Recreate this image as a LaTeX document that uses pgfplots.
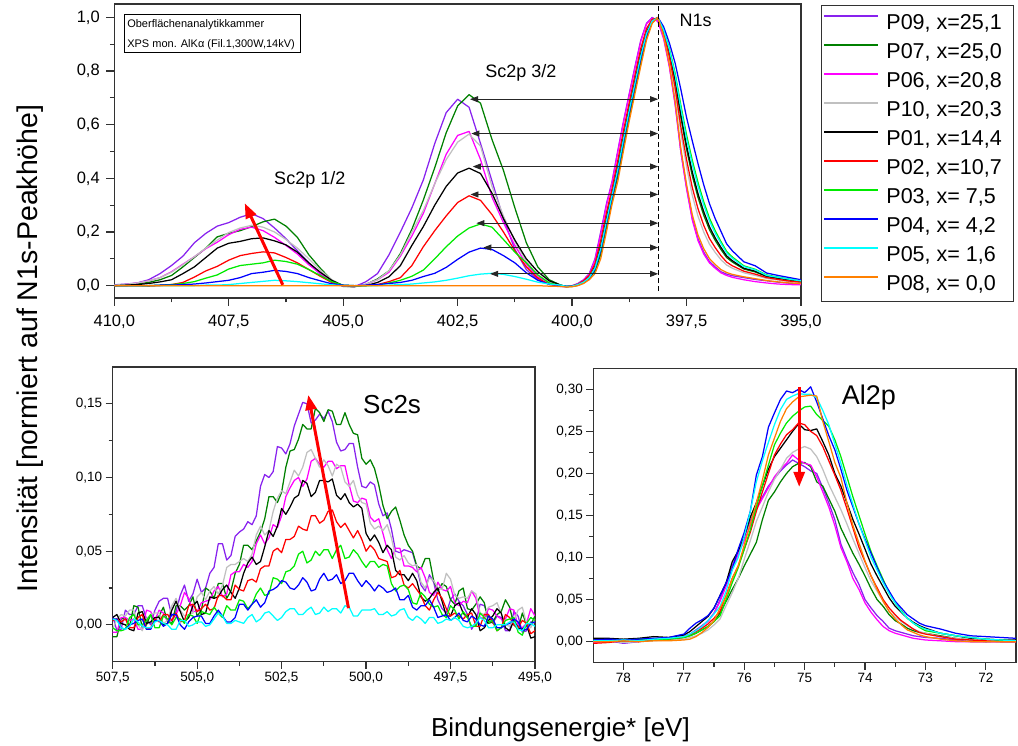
\documentclass[border=0pt]{standalone}
\usepackage{fontspec}
\setmainfont{Liberation Sans}
\usepackage{pgfplots}
\pgfplotsset{compat=1.18}
\usepackage{pgfplotstable}
\usetikzlibrary{arrows.meta}

\definecolor{cP09}{RGB}{136,34,238}
\definecolor{cP07}{RGB}{0,128,0}
\definecolor{cP06}{RGB}{255,0,255}
\definecolor{cP10}{RGB}{192,192,192}
\definecolor{cP01}{RGB}{0,0,0}
\definecolor{cP02}{RGB}{255,0,0}
\definecolor{cP03}{RGB}{0,235,0}
\definecolor{cP04}{RGB}{0,0,255}
\definecolor{cP05}{RGB}{0,255,255}
\definecolor{cP08}{RGB}{255,128,0}
\definecolor{axcol}{RGB}{50,50,50}

\pgfplotstableread{
x p09 p07 p06 p10 p01 p02 p03 p04 p05 p08
410.0 0.003 0.000 0.000 0.002 0.000 -0.002 0.000 0.000 0.000 0.000
409.75 0.006 0.003 0.004 0.005 0.002 -0.001 0.000 0.000 0.000 0.000
409.5 0.010 0.006 0.010 0.010 0.004 0.000 0.000 0.000 0.000 0.000
409.25 0.022 0.012 0.018 0.018 0.008 -0.002 0.000 0.000 0.000 0.000
409.0 0.045 0.022 0.030 0.030 0.014 0.000 0.002 0.002 0.000 0.000
408.75 0.075 0.038 0.052 0.050 0.022 0.004 0.004 0.002 0.000 0.000
408.5 0.110 0.070 0.080 0.078 0.045 0.012 0.008 0.004 0.000 0.000
408.25 0.160 0.105 0.108 0.108 0.070 0.032 0.015 0.006 0.000 0.000
408.0 0.195 0.140 0.138 0.140 0.105 0.055 0.028 0.010 0.002 0.000
407.75 0.222 0.182 0.162 0.170 0.140 0.072 0.040 0.015 0.002 0.000
407.5 0.235 0.195 0.190 0.198 0.158 0.095 0.062 0.020 0.004 0.000
407.25 0.255 0.205 0.210 0.215 0.165 0.112 0.075 0.030 0.008 0.000
407.0 0.268 0.220 0.218 0.225 0.175 0.120 0.080 0.045 0.012 0.000
406.75 0.250 0.238 0.205 0.218 0.178 0.126 0.085 0.050 0.016 0.000
406.5 0.215 0.248 0.180 0.200 0.167 0.122 0.095 0.057 0.020 0.000
406.25 0.175 0.222 0.150 0.172 0.152 0.105 0.090 0.053 0.018 0.000
406.0 0.130 0.180 0.118 0.140 0.125 0.085 0.080 0.045 0.015 0.000
405.75 0.085 0.115 0.078 0.100 0.085 0.060 0.060 0.030 0.011 0.000
405.5 0.042 0.065 0.045 0.058 0.050 0.035 0.038 0.018 0.007 0.000
405.25 0.012 0.020 0.015 0.022 0.020 0.012 0.015 0.007 0.003 0.000
405.0 -0.002 -0.003 -0.002 0.000 0.000 0.000 0.002 0.002 0.000 0.000
404.75 -0.004 -0.004 -0.003 -0.003 -0.002 -0.002 0.000 0.000 0.000 0.000
404.5 0.015 0.005 0.005 0.006 0.000 0.000 0.000 0.002 0.000 0.000
404.25 0.045 0.025 0.022 0.022 0.012 0.004 0.002 0.004 0.000 0.000
404.0 0.115 0.055 0.050 0.055 0.033 0.015 0.010 0.008 0.002 0.000
403.75 0.200 0.120 0.110 0.115 0.075 0.030 0.020 0.012 0.004 0.000
403.5 0.290 0.210 0.185 0.200 0.150 0.075 0.035 0.020 0.006 0.000
403.25 0.394 0.319 0.269 0.280 0.220 0.145 0.058 0.034 0.010 0.000
403.0 0.530 0.440 0.380 0.380 0.300 0.205 0.100 0.046 0.014 0.000
402.75 0.645 0.570 0.490 0.470 0.370 0.260 0.145 0.068 0.020 0.000
402.5 0.695 0.670 0.560 0.535 0.420 0.310 0.185 0.098 0.028 0.000
402.25 0.665 0.712 0.575 0.565 0.438 0.335 0.215 0.125 0.037 0.000
402.0 0.530 0.680 0.470 0.520 0.418 0.318 0.230 0.140 0.043 0.000
401.75 0.390 0.545 0.330 0.370 0.345 0.265 0.218 0.135 0.046 0.000
401.5 0.250 0.430 0.235 0.260 0.250 0.200 0.172 0.112 0.042 0.000
401.25 0.135 0.290 0.150 0.165 0.170 0.130 0.125 0.085 0.034 0.000
401.0 0.060 0.160 0.080 0.090 0.100 0.070 0.085 0.048 0.024 0.000
400.75 0.022 0.070 0.033 0.040 0.052 0.028 0.040 0.020 0.013 0.000
400.5 0.006 0.022 0.010 0.012 0.018 0.004 0.010 0.005 0.006 -0.002
400.25 -0.003 0.002 -0.002 0.000 0.002 0.000 0.000 0.000 0.002 -0.003
400.125 -0.004 -0.003 -0.004 -0.003 -0.003 -0.004 -0.003 -0.002 -0.003 -0.005
400.0 0.000 -0.003 -0.002 -0.002 -0.002 -0.001 -0.003 -0.002 -0.002 -0.004
399.875 0.008 0.001 0.006 0.005 0.004 0.005 0.003 0.003 0.004 0.000
399.75 0.022 0.010 0.020 0.016 0.015 0.018 0.012 0.012 0.013 0.008
399.625 0.045 0.026 0.042 0.036 0.033 0.038 0.029 0.028 0.030 0.022
399.5 0.100 0.054 0.095 0.078 0.071 0.082 0.063 0.062 0.066 0.045
399.375 0.200 0.116 0.192 0.160 0.148 0.168 0.132 0.130 0.138 0.100
399.25 0.305 0.217 0.298 0.263 0.250 0.271 0.234 0.232 0.240 0.200
399.125 0.390 0.319 0.386 0.356 0.346 0.363 0.332 0.330 0.338 0.305
399.0 0.505 0.408 0.500 0.459 0.445 0.468 0.427 0.425 0.435 0.390
398.875 0.615 0.523 0.610 0.571 0.558 0.580 0.540 0.538 0.548 0.505
398.75 0.717 0.631 0.712 0.676 0.664 0.684 0.648 0.645 0.655 0.615
398.625 0.818 0.733 0.813 0.778 0.765 0.786 0.749 0.746 0.756 0.717
398.5 0.915 0.834 0.910 0.876 0.865 0.884 0.849 0.846 0.856 0.818
398.375 0.978 0.925 0.975 0.953 0.945 0.958 0.935 0.932 0.940 0.915
398.25 1.000 0.982 0.998 0.991 0.989 0.993 0.985 0.984 0.987 0.978
398.125 0.985 0.997 0.985 0.998 0.999 0.998 0.999 1.000 0.999 1.000
398.0 0.925 0.947 0.920 0.937 0.949 0.941 0.955 0.965 0.953 0.930
397.875 0.820 0.867 0.815 0.846 0.871 0.854 0.884 0.905 0.880 0.824
397.75 0.680 0.763 0.675 0.725 0.770 0.740 0.793 0.830 0.785 0.688
397.625 0.500 0.628 0.500 0.570 0.639 0.593 0.674 0.732 0.662 0.512
397.5 0.365 0.509 0.362 0.444 0.522 0.470 0.562 0.627 0.548 0.378
397.375 0.250 0.410 0.245 0.337 0.424 0.366 0.468 0.540 0.453 0.265
397.25 0.175 0.329 0.168 0.259 0.343 0.287 0.385 0.455 0.371 0.189
397.125 0.125 0.263 0.118 0.200 0.276 0.225 0.313 0.376 0.301 0.138
397.0 0.090 0.209 0.085 0.155 0.220 0.176 0.252 0.306 0.241 0.101
396.875 0.070 0.169 0.065 0.124 0.178 0.142 0.205 0.250 0.196 0.079
396.75 0.052 0.135 0.048 0.097 0.143 0.112 0.165 0.203 0.158 0.060
396.625 0.043 0.105 0.038 0.077 0.111 0.088 0.128 0.156 0.122 0.049
396.5 0.037 0.088 0.031 0.065 0.093 0.074 0.107 0.130 0.102 0.042
396.25 0.030 0.062 0.022 0.048 0.065 0.054 0.074 0.089 0.071 0.033
396.0 0.023 0.051 0.015 0.038 0.054 0.043 0.061 0.074 0.059 0.026
395.75 0.018 0.034 0.010 0.027 0.035 0.030 0.040 0.047 0.038 0.019
395.5 0.013 0.027 0.006 0.021 0.028 0.023 0.032 0.038 0.031 0.014
395.25 0.009 0.021 0.004 0.015 0.022 0.017 0.025 0.030 0.024 0.010
395.0 0.007 0.015 0.003 0.012 0.016 0.013 0.018 0.022 0.018 0.008
}\topdata

\pgfplotstableread{
x p09 p07 p06 p10 p01 p02 p03 p04 p05
507.5 0.006 -0.008 -0.005 -0.003 0.005 0.003 -0.002 0.004 0.004
507.375 -0.004 -0.008 -0.005 0.004 0.007 0.004 -0.004 0.004 0.003
507.25 -0.003 0.004 0.005 0.007 0.001 0.002 -0.004 -0.002 -0.002
507.125 0.010 0.005 0.005 0.006 0.000 0.004 -0.003 -0.003 -0.003
507.0 0.007 -0.001 0.003 0.010 -0.003 -0.002 0.005 0.000 -0.001
506.875 0.007 0.013 0.004 0.010 -0.004 -0.002 0.007 0.001 0.004
506.75 0.013 0.012 -0.003 0.000 0.008 0.005 0.000 0.003 0.002
506.625 0.013 -0.002 -0.003 -0.004 0.009 0.007 0.000 0.004 -0.001
506.5 0.004 0.000 0.010 0.004 0.001 -0.003 0.003 -0.003 -0.002
506.375 0.000 0.007 0.009 0.007 0.002 -0.002 0.007 -0.003 -0.002
506.25 0.010 0.004 0.003 0.008 0.005 0.004 -0.002 0.003 0.002
506.125 0.016 0.006 0.010 0.008 0.005 0.002 -0.002 0.003 0.003
506.0 0.018 0.012 0.008 0.001 0.000 0.007 0.006 -0.001 0.001
505.875 0.018 0.002 0.002 0.003 0.001 0.007 0.004 0.001 0.000
505.75 0.006 0.001 0.003 0.013 0.010 0.003 0.000 0.007 -0.003
505.625 0.009 0.013 0.007 0.018 0.016 0.008 0.005 0.007 -0.003
505.5 0.020 0.013 0.013 0.010 0.009 0.002 0.004 0.000 0.003
505.375 0.027 0.010 0.022 0.006 0.002 0.003 0.001 -0.003 0.003
505.25 0.016 0.013 0.018 0.007 0.005 0.013 0.007 0.002 -0.001
505.125 0.021 0.019 0.009 0.008 0.013 0.014 0.006 0.005 0.000
505.0 0.031 0.006 0.009 0.019 0.016 0.009 0.001 0.006 0.002
504.875 0.022 0.010 0.015 0.022 0.007 0.011 0.009 0.006 0.002
504.75 0.025 0.025 0.016 0.017 0.008 0.014 0.008 0.001 -0.001
504.625 0.035 0.023 0.017 0.023 0.019 0.010 0.007 0.001 0.000
504.5 0.039 0.018 0.023 0.026 0.018 0.011 0.012 0.006 0.004
504.375 0.055 0.028 0.026 0.021 0.019 0.020 0.008 0.010 0.008
504.25 0.055 0.028 0.019 0.027 0.024 0.020 0.005 0.006 0.006
504.125 0.044 0.018 0.021 0.039 0.027 0.017 0.013 0.002 0.001
504.0 0.047 0.023 0.034 0.041 0.022 0.017 0.010 0.002 0.001
503.875 0.060 0.035 0.036 0.041 0.018 0.027 0.010 0.005 0.003
503.75 0.063 0.041 0.036 0.043 0.025 0.024 0.017 0.014 0.002
503.625 0.065 0.054 0.041 0.045 0.035 0.023 0.016 0.014 0.001
503.5 0.070 0.054 0.039 0.043 0.042 0.030 0.011 0.010 0.005
503.375 0.068 0.051 0.043 0.048 0.046 0.031 0.014 0.014 0.007
503.25 0.074 0.057 0.055 0.061 0.041 0.029 0.021 0.017 0.002
503.125 0.094 0.063 0.061 0.067 0.043 0.038 0.025 0.012 0.004
503.0 0.102 0.072 0.055 0.061 0.053 0.040 0.020 0.015 0.008
502.875 0.100 0.087 0.059 0.064 0.064 0.040 0.021 0.023 0.009
502.75 0.104 0.087 0.068 0.077 0.060 0.050 0.032 0.024 0.006
502.625 0.121 0.083 0.066 0.086 0.067 0.052 0.031 0.026 0.003
502.5 0.120 0.090 0.074 0.091 0.079 0.049 0.028 0.030 0.005
502.375 0.116 0.107 0.087 0.089 0.075 0.058 0.036 0.029 0.009
502.25 0.123 0.118 0.093 0.097 0.080 0.058 0.037 0.025 0.011
502.125 0.135 0.119 0.098 0.105 0.086 0.060 0.040 0.024 0.011
502.0 0.143 0.126 0.100 0.101 0.088 0.067 0.048 0.027 0.007
501.875 0.151 0.136 0.094 0.107 0.098 0.065 0.050 0.032 0.007
501.75 0.150 0.133 0.099 0.117 0.096 0.064 0.042 0.029 0.010
501.625 0.137 0.133 0.111 0.119 0.087 0.074 0.044 0.023 0.012
501.5 0.139 0.147 0.113 0.113 0.090 0.074 0.050 0.024 0.007
501.375 0.143 0.144 0.109 0.107 0.098 0.069 0.047 0.031 0.008
501.25 0.140 0.138 0.107 0.112 0.098 0.071 0.051 0.035 0.012
501.125 0.145 0.146 0.111 0.108 0.097 0.077 0.051 0.030 0.009
501.0 0.138 0.145 0.111 0.101 0.099 0.078 0.045 0.031 0.011
500.875 0.124 0.136 0.106 0.109 0.088 0.070 0.051 0.034 0.011
500.75 0.118 0.136 0.108 0.107 0.085 0.066 0.054 0.028 0.008
500.625 0.119 0.144 0.108 0.097 0.089 0.069 0.045 0.030 0.013
500.5 0.123 0.136 0.095 0.094 0.083 0.064 0.046 0.035 0.012
500.375 0.123 0.130 0.084 0.098 0.080 0.059 0.051 0.035 0.006
500.25 0.107 0.129 0.083 0.088 0.082 0.064 0.048 0.030 0.006
500.125 0.094 0.113 0.086 0.083 0.079 0.058 0.043 0.026 0.010
500.0 0.093 0.109 0.085 0.082 0.062 0.050 0.039 0.030 0.010
499.875 0.097 0.112 0.073 0.069 0.057 0.054 0.043 0.027 0.010
499.75 0.095 0.106 0.070 0.065 0.061 0.051 0.043 0.023 0.011
499.625 0.082 0.095 0.072 0.067 0.056 0.045 0.039 0.027 0.007
499.5 0.074 0.081 0.062 0.064 0.049 0.044 0.041 0.025 0.007
499.375 0.076 0.072 0.051 0.068 0.054 0.043 0.040 0.022 0.009
499.25 0.065 0.077 0.045 0.059 0.051 0.032 0.028 0.023 0.006
499.125 0.050 0.080 0.052 0.046 0.037 0.033 0.023 0.025 0.007
499.0 0.049 0.071 0.052 0.044 0.034 0.037 0.026 0.017 0.010
498.875 0.051 0.061 0.040 0.047 0.034 0.027 0.027 0.017 0.011
498.75 0.050 0.054 0.040 0.042 0.030 0.025 0.024 0.020 0.005
498.625 0.049 0.050 0.039 0.040 0.035 0.028 0.015 0.012 0.003
498.5 0.039 0.040 0.036 0.041 0.030 0.024 0.014 0.010 0.006
498.375 0.027 0.038 0.039 0.029 0.019 0.020 0.022 0.013 0.004
498.25 0.023 0.045 0.032 0.025 0.016 0.013 0.019 0.013 0.001
498.125 0.034 0.045 0.022 0.032 0.018 0.010 0.014 0.017 0.005
498.0 0.029 0.030 0.020 0.030 0.022 0.017 0.012 0.012 0.005
497.875 0.017 0.023 0.029 0.025 0.025 0.022 0.013 0.005 0.001
497.75 0.011 0.028 0.024 0.024 0.016 0.018 0.007 0.006 0.002
497.625 0.008 0.026 0.023 0.035 0.006 0.011 0.005 0.007 0.004
497.5 0.017 0.017 0.026 0.031 0.006 0.006 0.013 0.003 0.003
497.375 0.021 0.014 0.015 0.020 0.013 0.008 0.010 0.005 0.005
497.25 0.016 0.023 0.013 0.018 0.015 0.006 0.004 0.008 0.003
497.125 0.013 0.025 0.016 0.019 0.008 0.004 0.009 0.003 -0.001
497.0 0.007 0.011 0.015 0.018 0.005 0.007 0.005 0.002 -0.002
496.875 -0.003 0.010 0.023 0.023 0.011 0.008 -0.001 0.006 -0.001
496.75 0.002 0.014 0.018 0.021 0.007 -0.001 -0.001 0.004 0.001
496.625 0.014 0.019 0.005 0.008 -0.004 -0.001 0.008 0.000 0.005
496.5 0.013 0.015 0.004 0.007 -0.002 0.007 0.005 -0.001 0.003
496.375 0.006 0.001 0.011 0.012 0.003 0.007 0.002 0.006 -0.002
496.25 0.001 0.002 0.010 0.013 0.006 0.002 0.003 0.004 -0.002
496.125 0.006 0.007 0.006 0.015 0.011 -0.004 -0.004 -0.002 0.000
496.0 0.005 0.009 0.004 0.008 0.008 -0.002 -0.002 -0.002 0.000
495.875 -0.004 0.017 0.004 0.000 -0.002 0.007 0.003 0.000 0.000
495.75 -0.004 0.012 0.011 -0.001 -0.004 0.005 0.004 0.001 0.002
495.625 0.009 0.000 0.010 0.003 0.003 0.000 0.005 0.004 0.002
495.5 0.006 -0.003 -0.001 0.010 -0.002 -0.002 -0.005 0.002 -0.003
495.375 -0.005 0.008 -0.002 0.012 -0.003 0.003 -0.007 -0.004 -0.004
495.25 -0.004 0.000 0.001 0.001 0.000 0.001 0.001 -0.003 0.001
495.125 0.002 0.000 0.011 -0.002 -0.009 -0.006 0.005 0.001 0.001
495.0 0.002 0.006 0.006 0.004 -0.008 -0.004 0.003 0.002 -0.001
}\scdata

\pgfplotstableread{
x p09 p07 p06 p10 p01 p02 p03 p04 p05 p08
78.5 0.002 0.002 -0.001 0.000 0.004 -0.002 0.001 0.002 0.001 0.000
78.25 0.001 0.002 0.000 0.001 0.004 -0.001 0.002 0.003 0.001 0.000
78.0 -0.002 0.001 0.001 -0.001 0.003 0.001 0.001 0.002 0.002 0.001
77.75 0.000 0.003 0.000 0.000 0.004 0.000 0.003 0.003 0.001 0.000
77.5 0.002 0.002 0.002 0.001 0.006 0.002 0.002 0.004 0.003 0.001
77.25 0.004 0.003 0.003 0.002 0.005 0.003 0.003 0.005 0.004 0.001
77.0 0.007 0.005 0.006 0.003 0.008 0.005 0.005 0.009 0.006 0.002
76.9 0.009 0.007 0.008 0.005 0.012 0.008 0.007 0.016 0.009 0.003
76.8 0.014 0.010 0.012 0.007 0.018 0.012 0.010 0.022 0.013 0.006
76.7 0.019 0.014 0.018 0.010 0.024 0.016 0.014 0.026 0.018 0.011
76.6 0.025 0.018 0.024 0.014 0.030 0.021 0.018 0.031 0.025 0.017
76.5 0.034 0.024 0.034 0.020 0.040 0.028 0.024 0.040 0.033 0.025
76.4 0.050 0.034 0.048 0.027 0.055 0.036 0.031 0.055 0.042 0.040
76.3 0.070 0.048 0.066 0.043 0.070 0.055 0.050 0.070 0.060 0.054
76.2 0.090 0.062 0.086 0.058 0.095 0.075 0.070 0.086 0.085 0.075
76.1 0.107 0.075 0.104 0.075 0.108 0.090 0.088 0.110 0.100 0.090
76.0 0.124 0.090 0.120 0.098 0.125 0.110 0.110 0.130 0.125 0.115
75.9 0.144 0.104 0.138 0.120 0.148 0.130 0.133 0.155 0.155 0.140
75.8 0.160 0.118 0.157 0.143 0.165 0.155 0.160 0.198 0.190 0.165
75.7 0.172 0.145 0.170 0.160 0.185 0.178 0.185 0.220 0.215 0.192
75.6 0.185 0.168 0.183 0.178 0.205 0.200 0.210 0.255 0.237 0.222
75.5 0.194 0.178 0.196 0.193 0.220 0.222 0.234 0.272 0.258 0.242
75.4 0.203 0.190 0.205 0.205 0.230 0.235 0.248 0.288 0.276 0.262
75.3 0.210 0.200 0.212 0.218 0.240 0.246 0.260 0.298 0.288 0.277
75.2 0.216 0.208 0.222 0.225 0.250 0.252 0.268 0.296 0.292 0.285
75.1 0.212 0.212 0.216 0.229 0.259 0.260 0.274 0.300 0.295 0.291
75.0 0.208 0.213 0.212 0.232 0.252 0.258 0.279 0.296 0.294 0.292
74.9 0.203 0.208 0.210 0.229 0.251 0.250 0.280 0.303 0.294 0.293
74.8 0.200 0.190 0.196 0.220 0.253 0.245 0.270 0.285 0.290 0.292
74.7 0.183 0.185 0.178 0.205 0.238 0.232 0.263 0.265 0.275 0.262
74.6 0.165 0.170 0.160 0.187 0.222 0.215 0.256 0.245 0.258 0.238
74.5 0.145 0.155 0.138 0.172 0.200 0.198 0.240 0.228 0.235 0.213
74.4 0.116 0.135 0.112 0.157 0.185 0.180 0.220 0.205 0.212 0.195
74.3 0.098 0.120 0.095 0.140 0.165 0.158 0.196 0.180 0.186 0.165
74.2 0.082 0.105 0.075 0.122 0.145 0.135 0.172 0.160 0.163 0.138
74.1 0.068 0.092 0.062 0.105 0.128 0.112 0.150 0.140 0.140 0.117
74.0 0.050 0.078 0.046 0.088 0.110 0.095 0.128 0.122 0.120 0.096
73.9 0.040 0.063 0.035 0.072 0.092 0.078 0.107 0.105 0.100 0.078
73.8 0.031 0.050 0.026 0.060 0.078 0.064 0.090 0.088 0.085 0.062
73.7 0.024 0.042 0.018 0.048 0.065 0.050 0.074 0.072 0.070 0.048
73.6 0.016 0.032 0.013 0.036 0.052 0.040 0.058 0.060 0.057 0.036
73.5 0.013 0.025 0.010 0.029 0.042 0.032 0.046 0.048 0.046 0.027
73.4 0.011 0.021 0.008 0.024 0.035 0.025 0.037 0.040 0.036 0.020
73.3 0.009 0.016 0.006 0.019 0.028 0.020 0.028 0.032 0.028 0.014
73.2 0.007 0.013 0.004 0.015 0.023 0.015 0.022 0.027 0.022 0.011
73.1 0.006 0.011 0.003 0.012 0.019 0.011 0.017 0.022 0.018 0.008
73.0 0.005 0.010 0.002 0.010 0.016 0.009 0.013 0.019 0.015 0.006
72.75 0.004 0.007 0.001 0.006 0.010 0.006 0.010 0.015 0.010 0.003
72.5 0.002 0.004 0.000 0.004 0.007 0.003 0.007 0.010 0.007 0.001
72.25 0.000 0.002 0.000 0.002 0.004 0.002 0.005 0.007 0.005 0.000
72.0 0.000 0.000 0.000 0.001 0.003 0.001 0.003 0.006 0.003 0.000
71.75 0.000 0.001 0.000 0.000 0.002 0.000 0.002 0.005 0.002 0.000
71.5 0.000 0.000 0.000 0.000 0.002 0.000 0.001 0.004 0.001 0.000
}\aldata

\pgfplotsset{
  xpsaxis/.style={
    scale only axis,
    x dir=reverse,
    axis line style={line width=1.3pt, axcol},
    every tick/.style={line width=1.2pt, axcol},
    tick align=outside,
    tick pos=left,
    major tick length=7pt,
    minor tick length=4pt,
    minor x tick num=1,
    minor y tick num=1,
    /pgf/number format/assume math mode=true,
    /pgf/number format/use comma,
    every axis plot/.append style={line width=1.25pt, line join=round},
  }
}

\begin{document}
\begin{tikzpicture}
\useasboundingbox (0,0) rectangle (1018pt,746pt);

% ---------------- top panel ----------------
\begin{axis}[xpsaxis,
  at={(114.3pt,448pt)}, anchor=south west,
  width=686.7pt, height=294pt,
  major tick length=8pt, minor tick length=4.5pt,
  xmin=395, xmax=410, ymin=-0.046, ymax=1.05,
  xtick={395,397.5,400,402.5,405,407.5,410},
  ytick={0,0.2,0.4,0.6,0.8,1.0},
  tick label style={font=\fontsize{16.5}{19}\selectfont},
  xticklabel style={yshift=-5pt, /pgf/number format/fixed, /pgf/number format/fixed zerofill, /pgf/number format/precision=1},
  yticklabel style={xshift=-3pt, /pgf/number format/fixed, /pgf/number format/fixed zerofill, /pgf/number format/precision=1},
  legend style={at={(axis description cs:1.0291,0.9966)}, anchor=north west,
    draw=axcol, line width=0.9pt, fill=white,
    font=\fontsize{21.5}{24}\selectfont,
    inner xsep=2pt, inner ysep=10pt, row sep=14pt, column sep=7pt,
    nodes={inner sep=0pt, text height=14pt, text depth=1pt}},
  legend cell align=left,
  legend image code/.code={\draw[#1, line width=2pt] (0pt,6.5pt) -- (54pt,6.5pt);},
]
\addplot[cP09] table[x=x,y=p09]{\topdata};
\addlegendentry{\makebox[125pt][l]{P09, x=25,1}}
\addplot[cP07] table[x=x,y=p07]{\topdata};
\addlegendentry{\makebox[125pt][l]{P07, x=25,0}}
\addplot[cP06] table[x=x,y=p06]{\topdata};
\addlegendentry{\makebox[125pt][l]{P06, x=20,8}}
\addplot[cP10] table[x=x,y=p10]{\topdata};
\addlegendentry{\makebox[125pt][l]{P10, x=20,3}}
\addplot[cP01] table[x=x,y=p01]{\topdata};
\addlegendentry{\makebox[125pt][l]{P01, x=14,4}}
\addplot[cP02] table[x=x,y=p02]{\topdata};
\addlegendentry{\makebox[125pt][l]{P02, x=10,7}}
\addplot[cP03] table[x=x,y=p03]{\topdata};
\addlegendentry{\makebox[125pt][l]{P03, x=\ 7,5}}
\addplot[cP04] table[x=x,y=p04]{\topdata};
\addlegendentry{\makebox[125pt][l]{P04, x=\ 4,2}}
\addplot[cP05] table[x=x,y=p05]{\topdata};
\addlegendentry{\makebox[125pt][l]{P05, x=\ 1,6}}
\addplot[cP08] table[x=x,y=p08]{\topdata};
\addlegendentry{\makebox[125pt][l]{P08, x=\ 0,0}}

\draw[black, line width=0.9pt, dash pattern=on 5pt off 3pt] (axis cs:398.12,-0.02) -- (axis cs:398.12,1.05);
\begin{scope}[line width=0.9pt, black!85, {Triangle[length=8pt,width=6pt]}-{Triangle[length=8pt,width=6pt]}]
\draw (axis cs:402.23,0.695) -- (axis cs:398.12,0.695);
\draw (axis cs:402.20,0.567) -- (axis cs:398.12,0.567);
\draw (axis cs:402.17,0.444) -- (axis cs:398.12,0.444);
\draw (axis cs:402.22,0.340) -- (axis cs:398.12,0.340);
\draw (axis cs:402.09,0.233) -- (axis cs:398.12,0.233);
\draw (axis cs:401.94,0.142) -- (axis cs:398.12,0.142);
\draw (axis cs:401.79,0.044) -- (axis cs:398.12,0.044);
\end{scope}
\draw[red, line width=3pt, -{Triangle[length=15pt,width=11pt]}] (axis cs:406.32,0.003) -- (axis cs:407.15,0.307);

\draw[black, line width=0.8pt] (axis cs:409.78,1.0127) rectangle (axis cs:405.93,0.870);
\node[anchor=west, font=\fontsize{11}{13}\selectfont, inner sep=0pt] at (axis cs:409.72,0.972) {Oberflächenanalytikkammer};
\node[anchor=west, font=\fontsize{11}{13}\selectfont, inner sep=0pt] at (axis cs:409.72,0.900) {XPS mon. AlKα (Fil.1,300W,14kV)};
\node[font=\fontsize{18}{21}\selectfont] at (axis cs:405.73,0.394) {Sc2p 1/2};
\node[font=\fontsize{18}{21}\selectfont] at (axis cs:401.12,0.793) {Sc2p 3/2};
\node[font=\fontsize{18}{21}\selectfont] at (axis cs:397.30,0.987) {N1s};
\end{axis}

% ---------------- Sc2s panel ----------------
\begin{axis}[xpsaxis,
  at={(112.7pt,84.3pt)}, anchor=south west,
  width=422.3pt, height=294.7pt,
  xmin=495, xmax=507.5, ymin=-0.025, ymax=0.175,
  xtick={495,497.5,500,502.5,505,507.5},
  ytick={0,0.05,0.10,0.15},
  tick label style={font=\fontsize{13.5}{16}\selectfont},
  xticklabel style={/pgf/number format/fixed, /pgf/number format/fixed zerofill, /pgf/number format/precision=1},
  yticklabel style={/pgf/number format/fixed, /pgf/number format/fixed zerofill, /pgf/number format/precision=2},
]
\addplot[cP09] table[x=x,y=p09]{\scdata};
\addplot[cP07] table[x=x,y=p07]{\scdata};
\addplot[cP06] table[x=x,y=p06]{\scdata};
\addplot[cP10] table[x=x,y=p10]{\scdata};
\addplot[cP01] table[x=x,y=p01]{\scdata};
\addplot[cP02] table[x=x,y=p02]{\scdata};
\addplot[cP03] table[x=x,y=p03]{\scdata};
\addplot[cP04] table[x=x,y=p04]{\scdata};
\addplot[cP05] table[x=x,y=p05]{\scdata};
\draw[red, line width=3pt, -{Triangle[length=15pt,width=11pt]}] (axis cs:500.52,0.0113) -- (axis cs:501.71,0.156);
\node[font=\fontsize{26}{30}\selectfont] at (axis cs:499.23,0.1494) {Sc2s};
\end{axis}

% ---------------- Al2p panel ----------------
\begin{axis}[xpsaxis,
  at={(593.3pt,83.3pt)}, anchor=south west,
  width=422.7pt, height=294.4pt,
  xmin=71.5, xmax=78.5, ymin=-0.025, ymax=0.325,
  xtick={72,73,74,75,76,77,78},
  ytick={0,0.05,0.10,0.15,0.20,0.25,0.30},
  tick label style={font=\fontsize{13.5}{16}\selectfont},
  xticklabel style={/pgf/number format/fixed, /pgf/number format/precision=0},
  yticklabel style={/pgf/number format/fixed, /pgf/number format/fixed zerofill, /pgf/number format/precision=2},
]
\addplot[cP09] table[x=x,y=p09]{\aldata};
\addplot[cP07] table[x=x,y=p07]{\aldata};
\addplot[cP06] table[x=x,y=p06]{\aldata};
\addplot[cP10] table[x=x,y=p10]{\aldata};
\addplot[cP01] table[x=x,y=p01]{\aldata};
\addplot[cP02] table[x=x,y=p02]{\aldata};
\addplot[cP03] table[x=x,y=p03]{\aldata};
\addplot[cP04] table[x=x,y=p04]{\aldata};
\addplot[cP05] table[x=x,y=p05]{\aldata};
\addplot[cP08] table[x=x,y=p08]{\aldata};
\draw[red, line width=3pt, -{Triangle[length=15pt,width=11pt]}] (axis cs:75.09,0.303) -- (axis cs:75.09,0.184);
\node[font=\fontsize{27}{31}\selectfont] at (axis cs:73.935,0.29) {Al2p};
\end{axis}

\node[rotate=90, anchor=base, font=\fontsize{28.5}{32}\selectfont, inner sep=0pt] at (37.3pt,397.5pt) {Intensität [normiert auf N1s-Peakhöhe]};
\node[anchor=base, font=\fontsize{26}{30}\selectfont, inner sep=0pt] at (560.5pt,9pt) {Bindungsenergie* [eV]};
\end{tikzpicture}
\end{document}
